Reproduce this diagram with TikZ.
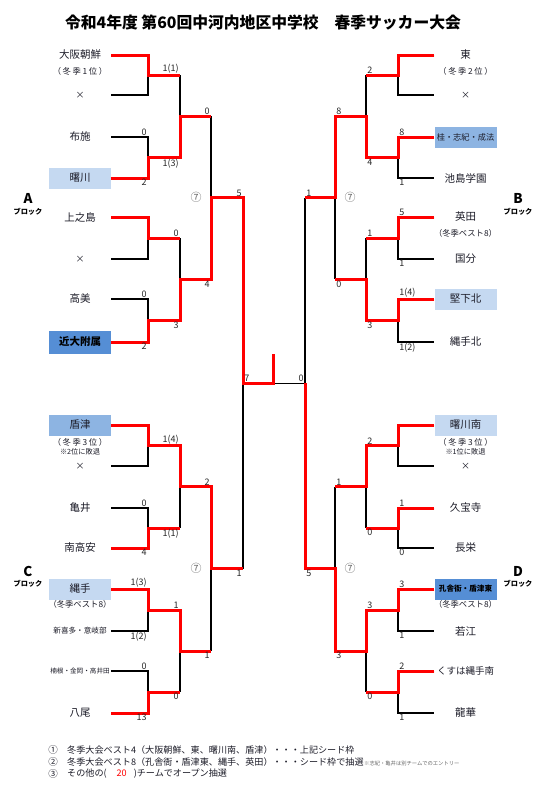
\documentclass[tikz,border=0pt]{standalone}
\usepackage{fontspec}
\setmainfont{Noto Sans CJK JP}
\definecolor{cLight}{HTML}{C5D9F1}
\definecolor{cMid}{HTML}{8DB4E2}
\definecolor{cDark}{HTML}{558ED5}
\definecolor{cRed}{HTML}{FF0000}
\definecolor{cTxt}{HTML}{1C1C28}
\begin{document}
\begin{tikzpicture}[x=1pt,y=-1pt,
  team/.style={minimum width=62pt,minimum height=21pt,inner sep=0pt,text=cTxt,font=\fontsize{10.5}{12}\selectfont},
  subtxt/.style={inner sep=0pt,text=cTxt,font=\fontsize{8.3}{9}\selectfont},
  rank/.style={inner sep=0pt,text=cTxt,font=\fontsize{8.3}{9}\selectfont\addfontfeatures{LetterSpace=20}},
  notetxt/.style={inner sep=0pt,text=cTxt,font=\fontsize{7.2}{8}\selectfont},
  sc/.style={inner sep=1.2pt,text=black!85,font=\fontsize{9}{10}\selectfont},
  wl/.style={line width=1.5pt,black,line join=miter},
  rl/.style={line width=3pt,cRed,line join=miter},
  seven/.style={inner sep=0pt,text=black!60,font=\fontsize{11}{12}\selectfont},
  blk/.style={inner sep=0pt,font=\fontsize{13.5}{14}\selectfont\bfseries},
  blksub/.style={inner sep=0pt,font=\fontsize{7.2}{8}\selectfont\bfseries},
  legend/.style={inner sep=0pt,anchor=west,text=cTxt,font=\fontsize{9.1}{10}\selectfont}]
\useasboundingbox (0,0) rectangle (543,787);

% title
\node[inner sep=0pt,font=\fontsize{15.8}{18}\selectfont\bfseries] (title) at (263,22) {令和4年度 第60回中河内地区中学校　春季サッカー大会};

% ---------- teams A ----------
\node[team] (a1) at (80,55) {大阪朝鮮};
\node[rank] (a1s) at (80,71) {（冬季1位）};
\node[team,font=\fontsize{9}{10}\selectfont] (a2) at (80,95) {×};
\node[team] (a3) at (80,137) {布施};
\node[team,fill=cLight] (a4) at (80,178) {曙川};
\node[team] (a5) at (80,217) {上之島};
\node[team,font=\fontsize{9}{10}\selectfont] (a6) at (80,259) {×};
\node[team] (a7) at (80,299) {高美};
\node[team,fill=cDark,minimum height=23pt,font=\fontsize{10.5}{12}\selectfont\bfseries,text=black] (a8) at (80,342) {近大附属};
% ---------- teams C ----------
\node[team,fill=cMid] (c1) at (80,425) {盾津};
\node[rank] (c1s) at (80,442) {（冬季3位）};
\node[notetxt] (c1n) at (80,451.5) {※2位に敗退};
\node[team,font=\fontsize{9}{10}\selectfont] (c2) at (80,466) {×};
\node[team] (c3) at (80,508) {亀井};
\node[team] (c4) at (80,548) {南高安};
\node[team,fill=cLight] (c5) at (80,589) {縄手};
\node[subtxt] (c5s) at (80,604) {（冬季ベスト8）};
\node[team,font=\fontsize{7.6}{9}\selectfont] (c6) at (80,631) {新喜多・意岐部};
\node[team,font=\fontsize{6.6}{8}\selectfont] (c7) at (80,671) {楠根・金岡・高井田};
\node[team] (c8) at (80,713) {八尾};
% ---------- teams B ----------
\node[team] (b1) at (465.5,55) {東};
\node[rank] (b1s) at (465.5,71) {（冬季2位）};
\node[team,font=\fontsize{9}{10}\selectfont] (b2) at (465.5,95) {×};
\node[team,fill=cMid,font=\fontsize{8.2}{10}\selectfont] (b3) at (465.5,137) {桂・志紀・成法};
\node[team] (b4) at (465.5,178) {池島学園};
\node[team] (b5) at (465.5,217) {英田};
\node[subtxt] (b5s) at (465.5,233) {（冬季ベスト8）};
\node[team] (b6) at (465.5,259) {国分};
\node[team,fill=cLight] (b7) at (465.5,299) {堅下北};
\node[team] (b8) at (465.5,342) {縄手北};
% ---------- teams D ----------
\node[team,fill=cLight] (d1) at (465.5,425) {曙川南};
\node[rank] (d1s) at (465.5,442) {（冬季3位）};
\node[notetxt] (d1n) at (465.5,451.5) {※1位に敗退};
\node[team,font=\fontsize{9}{10}\selectfont] (d2) at (465.5,466) {×};
\node[team] (d3) at (465.5,508) {久宝寺};
\node[team] (d4) at (465.5,548) {長栄};
\node[team,fill=cDark,font=\fontsize{7.6}{9}\selectfont\bfseries,text=black] (d5) at (465.5,589) {孔舎衙・盾津東};
\node[subtxt] (d5s) at (465.5,604) {（冬季ベスト8）};
\node[team] (d6) at (465.5,631) {若江};
\node[team,font=\fontsize{9.5}{11}\selectfont] (d7) at (465.5,671) {くすは縄手南};
\node[team] (d8) at (465.5,713) {龍華};

% block labels
\node[blk] (bA) at (28,198) {A};   \node[blksub] (bAs) at (28,212) {ブロック};
\node[blk] (bB) at (518,198) {B};  \node[blksub] (bBs) at (518,212) {ブロック};
\node[blk] (bC) at (28,571) {C};   \node[blksub] (bCs) at (28,584) {ブロック};
\node[blk] (bD) at (518,571) {D};  \node[blksub] (bDs) at (518,584) {ブロック};
\node[seven] (sevA) at (196,197) {⑦};
\node[seven] (sevB) at (350,197) {⑦};
\node[seven] (sevC) at (196,568) {⑦};
\node[seven] (sevD) at (350,568) {⑦};

% ---------- junctions ----------
\coordinate (ja1) at (148,75);
\coordinate (ja2) at (148,157.5);
\coordinate (ja3) at (148,238);
\coordinate (ja4) at (148,320.5);
\coordinate (ka1) at (180,116.25);
\coordinate (ka2) at (180,279.25);
\coordinate (la) at (211,197.75);
\coordinate (jc1) at (148,445.5);
\coordinate (jc2) at (148,528);
\coordinate (jc3) at (148,610);
\coordinate (jc4) at (148,692);
\coordinate (kc1) at (180,486.75);
\coordinate (kc2) at (180,651);
\coordinate (lc) at (211,568.875);
\coordinate (mL) at (243,383.3);
\coordinate (champ) at (273,354);
\coordinate (mR) at (305,383.3);
\coordinate (jb1) at (398,75);
\coordinate (jb2) at (398,157.5);
\coordinate (jb3) at (398,238);
\coordinate (jb4) at (398,320.5);
\coordinate (kb1) at (366,116.25);
\coordinate (kb2) at (366,279.25);
\coordinate (lb) at (335,197.75);
\coordinate (jd1) at (398,445.5);
\coordinate (jd2) at (398,528);
\coordinate (jd3) at (398,610);
\coordinate (jd4) at (398,692);
\coordinate (kd1) at (366,486.75);
\coordinate (kd2) at (366,651);
\coordinate (ld) at (335,568.875);

% ---------- black skeleton ----------
\draw[wl] (a1.east) -- (a1.east -| ja1) -- (a2.east -| ja1) -- (a2.east);
\draw[wl] (a3.east) -- (a3.east -| ja2) -- (a4.east -| ja2) -- (a4.east);
\draw[wl] (a5.east) -- (a5.east -| ja3) -- (a6.east -| ja3) -- (a6.east);
\draw[wl] (a7.east) -- (a7.east -| ja4) -- (a8.east -| ja4) -- (a8.east);
\draw[wl] (c1.east) -- (c1.east -| jc1) -- (c2.east -| jc1) -- (c2.east);
\draw[wl] (c3.east) -- (c3.east -| jc2) -- (c4.east -| jc2) -- (c4.east);
\draw[wl] (c5.east) -- (c5.east -| jc3) -- (c6.east -| jc3) -- (c6.east);
\draw[wl] (c7.east) -- (c7.east -| jc4) -- (c8.east -| jc4) -- (c8.east);
\draw[wl] (b1.west) -- (b1.west -| jb1) -- (b2.west -| jb1) -- (b2.west);
\draw[wl] (b3.west) -- (b3.west -| jb2) -- (b4.west -| jb2) -- (b4.west);
\draw[wl] (b5.west) -- (b5.west -| jb3) -- (b6.west -| jb3) -- (b6.west);
\draw[wl] (b7.west) -- (b7.west -| jb4) -- (b8.west -| jb4) -- (b8.west);
\draw[wl] (d1.west) -- (d1.west -| jd1) -- (d2.west -| jd1) -- (d2.west);
\draw[wl] (d3.west) -- (d3.west -| jd2) -- (d4.west -| jd2) -- (d4.west);
\draw[wl] (d5.west) -- (d5.west -| jd3) -- (d6.west -| jd3) -- (d6.west);
\draw[wl] (d7.west) -- (d7.west -| jd4) -- (d8.west -| jd4) -- (d8.west);
\draw[wl] (ja1 -| ka1) -- (ja2 -| ka1);
\draw[wl] (ja3 -| ka2) -- (ja4 -| ka2);
\draw[wl] (ka1 -| la) -- (ka2 -| la);
\draw[wl] (jc1 -| kc1) -- (jc2 -| kc1);
\draw[wl] (jc3 -| kc2) -- (jc4 -| kc2);
\draw[wl] (kc1 -| lc) -- (kc2 -| lc);
\draw[wl] (la -| mL) -- (lc -| mL);
\draw[wl] (jb1 -| kb1) -- (jb2 -| kb1);
\draw[wl] (jb3 -| kb2) -- (jb4 -| kb2);
\draw[wl] (kb1 -| lb) -- (kb2 -| lb);
\draw[wl] (jd1 -| kd1) -- (jd2 -| kd1);
\draw[wl] (jd3 -| kd2) -- (jd4 -| kd2);
\draw[wl] (kd1 -| ld) -- (kd2 -| ld);
\draw[wl] (lb -| mR) -- (ld -| mR);
\draw[wl] (mL) -- (mR);

% ---------- red winning paths ----------
\draw[rl] (a1.east) -| (ja1) -- (ja1 -| ka1);
\draw[rl] (a4.east) -| (ja2) -- (ja2 -| ka1) -- (ka1) -- (ka1 -| la);
\draw[rl] (a5.east) -| (ja3) -- (ja3 -| ka2);
\draw[rl] (a8.east) -| (ja4) -- (ja4 -| ka2) -- (ka2) -- (ka2 -| la) -- (la) -- (la -| mL) -- (mL) -- (mL -| champ) -- (champ);
\draw[rl] (c1.east) -| (jc1) -- (jc1 -| kc1) -- (kc1) -- (kc1 -| lc) -- (lc) -- (lc -| mL);
\draw[rl] (c4.east) -| (jc2) -- (jc2 -| kc1);
\draw[rl] (c5.east) -| (jc3) -- (jc3 -| kc2) -- (kc2) -- (kc2 -| lc);
\draw[rl] (c8.east) -| (jc4) -- (jc4 -| kc2);
\draw[rl] (b1.west) -| (jb1) -- (jb1 -| kb1);
\draw[rl] (b3.west) -| (jb2) -- (jb2 -| kb1) -- (kb1) -- (kb1 -| lb) -- (lb) -- (lb -| mR);
\draw[rl] (b5.west) -| (jb3) -- (jb3 -| kb2);
\draw[rl] (b7.west) -| (jb4) -- (jb4 -| kb2) -- (kb2) -- (kb2 -| lb);
\draw[rl] (d1.west) -| (jd1) -- (jd1 -| kd1) -- (kd1) -- (kd1 -| ld);
\draw[rl] (d3.west) -| (jd2) -- (jd2 -| kd1);
\draw[rl] (d5.west) -| (jd3) -- (jd3 -| kd2) -- (kd2) -- (kd2 -| ld) -- (ld) -- (ld -| mR) -- (mR);
\draw[rl] (d7.west) -| (jd4) -- (jd4 -| kd2);

% ---------- scores A ----------
\node[sc,anchor=south east] (s01) at (148,137) {0};
\node[sc,anchor=north east] (s02) at (148,178) {2};
\node[sc,anchor=south east] (s03) at (180,75) {1(1)};
\node[sc,anchor=north east] (s04) at (180,157.5) {1(3)};
\node[sc,anchor=south east] (s05) at (148,299) {0};
\node[sc,anchor=north east] (s06) at (148,342) {2};
\node[sc,anchor=south east] (s07) at (180,238) {0};
\node[sc,anchor=north east] (s08) at (180,320.5) {3};
\node[sc,anchor=south east] (s09) at (211,116.25) {0};
\node[sc,anchor=north east] (s10) at (211,279.25) {4};
\node[sc,anchor=south east] (s11) at (243,197.75) {5};
\node[sc,anchor=north east] (s12) at (243,568.875) {1};
% scores C
\node[sc,anchor=south east] (s13) at (148,508) {0};
\node[sc,anchor=north east] (s14) at (148,548) {4};
\node[sc,anchor=south east] (s15) at (180,445.5) {1(4)};
\node[sc,anchor=north east] (s16) at (180,528) {1(1)};
\node[sc,anchor=south east] (s17) at (148,589) {1(3)};
\node[sc,anchor=north east] (s18) at (148,631) {1(2)};
\node[sc,anchor=south east] (s19) at (148,671) {0};
\node[sc,anchor=north east] (s20) at (148,713) {13};
\node[sc,anchor=south east] (s21) at (180,610) {1};
\node[sc,anchor=north east] (s22) at (180,692) {0};
\node[sc,anchor=south east] (s23) at (211,486.75) {2};
\node[sc,anchor=north east] (s24) at (211,651) {1};
% scores B
\node[sc,anchor=south west] (s25) at (398,137) {8};
\node[sc,anchor=north west] (s26) at (398,178) {1};
\node[sc,anchor=south west] (s27) at (366,75) {2};
\node[sc,anchor=north west] (s28) at (366,157.5) {4};
\node[sc,anchor=south west] (s29) at (398,217) {5};
\node[sc,anchor=north west] (s30) at (398,259) {1};
\node[sc,anchor=south west] (s31) at (398,299) {1(4)};
\node[sc,anchor=north west] (s32) at (398,342) {1(2)};
\node[sc,anchor=south west] (s33) at (366,238) {1};
\node[sc,anchor=north west] (s34) at (366,320.5) {3};
\node[sc,anchor=south west] (s35) at (335,116.25) {8};
\node[sc,anchor=north west] (s36) at (335,279.25) {0};
\node[sc,anchor=south west] (s37) at (305,197.75) {1};
\node[sc,anchor=north west] (s38) at (305,568.875) {5};
% scores D
\node[sc,anchor=south west] (s39) at (398,508) {1};
\node[sc,anchor=north west] (s40) at (398,548) {0};
\node[sc,anchor=south west] (s41) at (366,445.5) {2};
\node[sc,anchor=north west] (s42) at (366,528) {0};
\node[sc,anchor=south west] (s43) at (398,589) {3};
\node[sc,anchor=north west] (s44) at (398,631) {1};
\node[sc,anchor=south west] (s45) at (398,671) {2};
\node[sc,anchor=north west] (s46) at (398,713) {1};
\node[sc,anchor=south west] (s47) at (366,610) {3};
\node[sc,anchor=north west] (s48) at (366,692) {0};
\node[sc,anchor=south west] (s49) at (335,486.75) {1};
\node[sc,anchor=north west] (s50) at (335,651) {3};
% final
\node[sc,anchor=south west] (s51) at (243,383.3) {7};
\node[sc,anchor=south east] (s52) at (305,383.3) {0};

% ---------- legend ----------
\node[inner sep=0pt,text=cTxt,font=\fontsize{9.5}{10}\selectfont] (n1) at (53,750) {①};
\node[inner sep=0pt,text=cTxt,font=\fontsize{9.5}{10}\selectfont] (n2) at (53,762) {②};
\node[inner sep=0pt,text=cTxt,font=\fontsize{9.5}{10}\selectfont] (n3) at (53,774) {③};
\node[legend] (lg1) at (67,750) {冬季大会ベスト4（大阪朝鮮、東、曙川南、盾津）・・・上記シード枠};
\node[legend] (lg2) at (67,762) {冬季大会ベスト8（孔舎衙・盾津東、縄手、英田）・・・シード枠で抽選};
\node[inner sep=0pt,anchor=west,text=black!60,font=\fontsize{5.3}{6}\selectfont] (lg2n) at (364,763) {※志紀・亀井は別チームでのエントリー};
\node[legend] (lg3) at (67,774) {その他の(\hspace{10pt}{\color{cRed}20}\hspace{7pt})チームでオープン抽選};
\end{tikzpicture}
\end{document}
